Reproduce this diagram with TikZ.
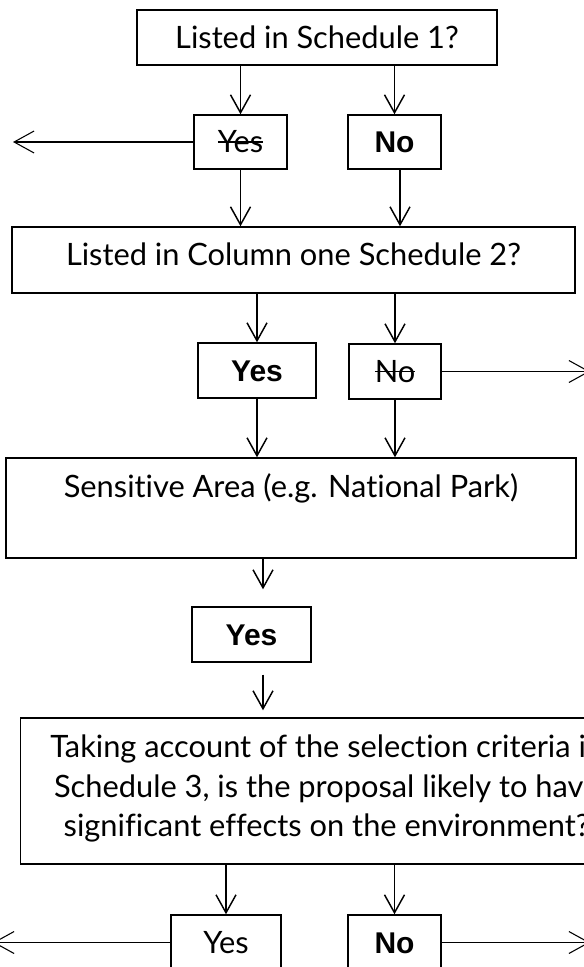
\documentclass[tikz,border=0pt]{standalone}
\usepackage{fontspec}
\setmainfont{Lato}[Ligatures={NoCommon,NoRare}]
\newfontfamily\arialfont{Liberation Sans}
\usetikzlibrary{arrows.meta,calc}
\newsavebox\strkbox
\newcommand\strk[1]{\leavevmode\sbox\strkbox{#1}\rlap{\rule[0.66ex]{\wd\strkbox}{0.95pt}}\usebox\strkbox}
\begin{document}
\begin{tikzpicture}[x=0.75pt,y=-0.75pt,
  font=\fontsize{23.1pt}{29.6pt}\selectfont,
  boxst/.style={draw, line width=1.1pt, inner sep=0pt, rectangle},
  ansbox/.style={boxst, text height=16.4pt, text depth=0pt},
  boldtxt/.style={font=\fontsize{22.5pt}{27pt}\selectfont\arialfont\bfseries},
  arrowone/.style={line width=1.1pt, -{Straight Barb[length=13.5pt,width=15pt]}},
  sidearrow/.style={line width=0.8pt, -{Straight Barb[length=15pt,width=16.5pt]}},
  lbltxt/.style={inner sep=0pt, anchor=base}]
\fill[white] (0,0) rectangle (584,967);
\useasboundingbox (0,0) rectangle (584,967);
\clip (0,0) rectangle (584,967);

% main boxes
\node[ansbox, minimum width=270pt, minimum height=41.25pt] (box1) at (317,37.5) {Listed in Schedule 1?};
\node[boxst, minimum width=422.25pt, minimum height=49.5pt] (box2) at (293.5,260) {};
\node[lbltxt] (box2t) at (293.5,265) {Listed in Column one Schedule 2?};
\node[boxst, minimum width=427.5pt, minimum height=75pt] (box3) at (291,508) {};
\node[lbltxt] (box3t) at (291,497) {Sensitive Area (e.g. National Park)};
\node[boxst, minimum width=509.6pt, minimum height=109.5pt] (box4) at (360.25,791) {};
\node[lbltxt, anchor=base west] (t4a) at (50,757) {Taking account of the selection criteria in};
\node[lbltxt] (t4b) at ($(t4a.base)+(0,40)$) {Schedule 3, is the proposal likely to have};
\node[lbltxt] (t4c) at ($(t4a.base)+(0,79)$) {significant effects on the environment?};

% answer boxes
\node[ansbox, minimum width=69.75pt, minimum height=40.5pt] (yes1) at (240.5,142) {\strk{Yes}};
\node[ansbox, boldtxt, minimum width=69.75pt, minimum height=40.5pt] (no1) at (394.5,142) {No};
\node[ansbox, boldtxt, minimum width=88.5pt, minimum height=41.25pt] (yes2) at (257,370.5) {Yes};
\node[ansbox, minimum width=69pt, minimum height=41.25pt] (no2) at (395,371.5) {\strk{No}};
\node[ansbox, boldtxt, minimum width=89.25pt, minimum height=41.25pt] (yes3) at (251.5,634.5) {Yes};
\node[ansbox, minimum width=82.5pt, minimum height=41.25pt] (yes4) at (226,942.5) {Yes};
\node[ansbox, boldtxt, minimum width=69.75pt, minimum height=41.25pt] (no4) at (394.5,942.5) {No};

% free ends
\coordinate (L1) at (13,142);
\coordinate (R2) at (590,371.5);
\coordinate (L4) at (-7,942.5);
\coordinate (R4) at (590,942.5);
\coordinate (ax3) at (263,0);

% connectors
\draw[arrowone] (yes1.north |- box1.south) -- (yes1.north);
\draw[arrowone] (no1.north |- box1.south) -- (no1.north);
\draw[sidearrow] (yes1.west) -- (L1);
\draw[arrowone] (yes1.south) -- (yes1.south |- box2.north);
\draw[arrowone] ($(no1.south)+(5.5,0)$) -- ($(no1.south |- box2.north)+(5.5,0)$);
\draw[arrowone] (yes2.north |- box2.south) -- (yes2.north);
\draw[arrowone] (no2.north |- box2.south) -- (no2.north);
\draw[sidearrow] (no2.east) -- (R2);
\draw[arrowone] (yes2.south) -- (yes2.south |- box3.north);
\draw[arrowone] (no2.south) -- (no2.south |- box3.north);
\draw[arrowone, shorten >=12.75pt] (box3.south -| ax3) -- (yes3.north -| ax3);
\draw[arrowone, shorten <=9pt, shorten >=5.25pt] (yes3.south -| ax3) -- (box4.north -| ax3);
\draw[arrowone] (yes4.north |- box4.south) -- (yes4.north);
\draw[arrowone] (no4.north |- box4.south) -- (no4.north);
\draw[sidearrow] (yes4.west) -- (L4);
\draw[sidearrow] (no4.east) -- (R4);
\end{tikzpicture}
\end{document}
